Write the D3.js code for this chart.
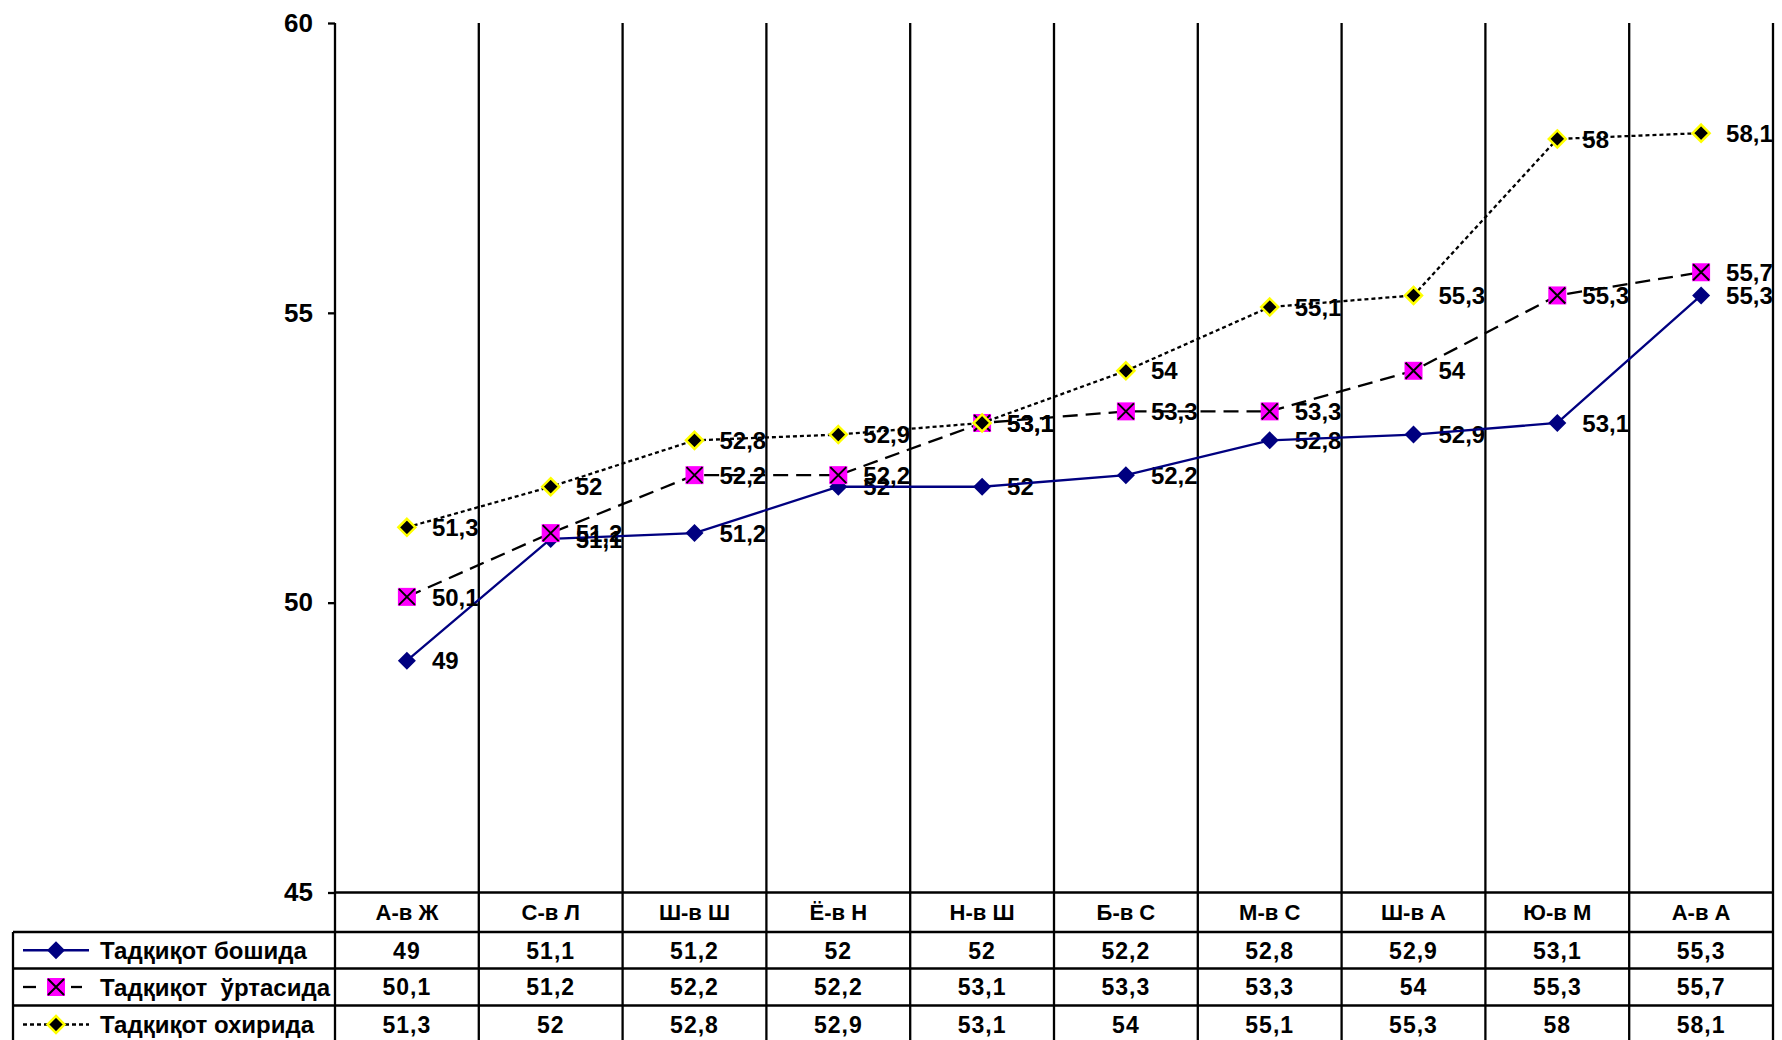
<!doctype html>
<html>
  <head>
    <meta charset="utf-8">
    <title>Тадқиқот</title>
    <script src="https://d3js.org/d3.v7.min.js"></script>
    <style type="text/css">
      body { margin: 0; background-color: #ffffff; }
      text { font-family: Arial, "Liberation Sans", sans-serif; font-weight: bold; fill: #000; }
    </style>
  </head>
  <body>
    <script>
      // data
      var categories = ["А-в Ж", "С-в Л", "Ш-в Ш", "Ё-в Н", "Н-в Ш", "Б-в С", "М-в С", "Ш-в А", "Ю-в М", "А-в А"];
      var seriesNames = ["Тадқиқот бошида", "Тадқиқот  ўртасида", "Тадқиқот охирида"];
      var startValues = [49, 51.1, 51.2, 52, 52, 52.2, 52.8, 52.9, 53.1, 55.3];
      var middleValues = [50.1, 51.2, 52.2, 52.2, 53.1, 53.3, 53.3, 54, 55.3, 55.7];
      var endValues = [51.3, 52, 52.8, 52.9, 53.1, 54, 55.1, 55.3, 58, 58.1];
      var yTicks = [45, 50, 55, 60];

      var w = 1782, h = 1040;
      var plotLeft = 335, plotRight = 1773, plotTop = 23, plotBottom = 892.5;
      var rowLines = [932, 968.5, 1005.5, 1042];

      var svg = d3.select("body").append("svg")
        .attr("width", w).attr("height", h);

      var x = d3.scaleBand().domain(categories).range([plotLeft, plotRight]);
      var y = d3.scaleLinear().domain([45, 60]).range([plotBottom, plotTop]);
      var bw = x.bandwidth();
      var cx = function(c) { return x(c) + bw / 2; };
      var fmt = function(v) { return String(v).replace(".", ","); };

      var series = [
        { name: seriesNames[0], values: startValues, stroke: "#000080", dash: null, marker: "diamond", fill: "#000080", mstroke: "#000080" },
        { name: seriesNames[1], values: middleValues, stroke: "#000000", dash: "15,8", marker: "square", fill: "#ff00ff", mstroke: "#ff00ff" },
        { name: seriesNames[2], values: endValues, stroke: "#000000", dash: "4,3", marker: "diamond2", fill: "#000000", mstroke: "#ffff00" }
      ];

      // grid: vertical band lines through plot and table
      var edges = categories.map(function(c) { return x(c); }).concat([plotRight]);
      svg.append("g").selectAll("line").data(edges.slice(1)).enter().append("line")
        .attr("x1", function(d) { return d; }).attr("x2", function(d) { return d; })
        .attr("y1", plotTop).attr("y2", h)
        .attr("stroke", "#000").attr("stroke-width", 2.3);

      // y axis
      var yAxis = svg.append("g")
        .attr("transform", "translate(" + plotLeft + ",0)")
        .call(d3.axisLeft(y).tickValues(yTicks).tickSize(7).tickSizeOuter(0).tickPadding(15));
      yAxis.select(".domain").attr("stroke-width", 2.3).attr("d", "M0," + plotTop + "V" + h);
      yAxis.selectAll(".tick line").attr("stroke-width", 2.3);
      yAxis.selectAll(".tick text")
        .style("font-size", "26px").style("font-family", "Arial, 'Liberation Sans', sans-serif")
        .style("font-weight", "bold").attr("fill", "#000");

      // horizontal table lines
      svg.append("line").attr("x1", plotLeft).attr("x2", plotRight).attr("y1", plotBottom).attr("y2", plotBottom)
        .attr("stroke", "#000").attr("stroke-width", 2.3);
      svg.append("g").selectAll("line").data(rowLines).enter().append("line")
        .attr("x1", 13).attr("x2", plotRight)
        .attr("y1", function(d) { return d; }).attr("y2", function(d) { return d; })
        .attr("stroke", "#000").attr("stroke-width", 2.3);
      svg.append("line").attr("x1", 13).attr("x2", 13).attr("y1", rowLines[0]).attr("y2", h)
        .attr("stroke", "#000").attr("stroke-width", 2.3);

      // category header
      svg.append("g").selectAll("text").data(categories).enter().append("text")
        .attr("x", cx).attr("y", (plotBottom + rowLines[0]) / 2).attr("dy", "0.36em")
        .attr("text-anchor", "middle").style("font-size", "22px")
        .text(function(d) { return d; });

      function drawMarker(g, type, px, py, s) {
        if (type == "square") {
          g.append("rect").attr("x", px - 9).attr("y", py - 9).attr("width", 18).attr("height", 18)
            .attr("fill", s.fill);
          g.append("path").attr("d", "M" + (px - 8) + "," + (py - 8) + "L" + (px + 8) + "," + (py + 8) +
              "M" + (px + 8) + "," + (py - 8) + "L" + (px - 8) + "," + (py + 8))
            .attr("stroke", "#000").attr("stroke-width", 2).attr("fill", "none");
        } else if (type == "diamond") {
          g.append("path").attr("d", "M" + px + "," + (py - 9) + "L" + (px + 9) + "," + py +
              "L" + px + "," + (py + 9) + "L" + (px - 9) + "," + py + "Z")
            .attr("fill", s.fill);
        } else {
          g.append("path").attr("d", "M" + px + "," + (py - 8.5) + "L" + (px + 8.5) + "," + py +
              "L" + px + "," + (py + 8.5) + "L" + (px - 8.5) + "," + py + "Z")
            .attr("fill", s.fill).attr("stroke", s.mstroke).attr("stroke-width", 2.5);
        }
      }

      var line = d3.line()
        .x(function(d, i) { return cx(categories[i]); })
        .y(function(d) { return y(d); });

      series.forEach(function(s, si) {
        var g = svg.append("g");
        // labels
        g.selectAll("text").data(s.values).enter().append("text")
          .attr("x", function(d, i) { return cx(categories[i]) + 25; })
          .attr("y", function(d) { return y(d); }).attr("dy", "0.36em")
          .style("font-size", "24px")
          .text(fmt);
        g.append("path").datum(s.values).attr("d", line)
          .attr("fill", "none").attr("stroke", s.stroke).attr("stroke-width", 2.3)
          .attr("stroke-dasharray", s.dash);
        s.values.forEach(function(v, i) { drawMarker(g, s.marker, cx(categories[i]), y(v), s); });

        // table row
        var ry = (rowLines[si] + rowLines[si + 1]) / 2;
        if (si == 2) ry = rowLines[2] + 19;
        var row = svg.append("g");
        row.selectAll("text").data(s.values).enter().append("text")
          .attr("x", function(d, i) { return cx(categories[i]); })
          .attr("y", ry).attr("dy", "0.36em").attr("text-anchor", "middle")
          .style("font-size", "23px").style("letter-spacing", "1px")
          .text(fmt);
        // legend key
        if (si == 1) {
          row.append("line").attr("x1", 23).attr("x2", 36).attr("y1", ry).attr("y2", ry)
            .attr("stroke", "#000").attr("stroke-width", 2.3);
          row.append("line").attr("x1", 71).attr("x2", 82).attr("y1", ry).attr("y2", ry)
            .attr("stroke", "#000").attr("stroke-width", 2.3);
        } else {
          row.append("line").attr("x1", 23).attr("x2", 89).attr("y1", ry).attr("y2", ry)
            .attr("stroke", s.stroke).attr("stroke-width", 2.3).attr("stroke-dasharray", s.dash);
        }
        drawMarker(row, s.marker, 56, ry, s);
        row.append("text").attr("x", 100).attr("y", ry).attr("dy", "0.36em")
          .style("font-size", "24px").style("white-space", "pre").attr("xml:space", "preserve")
          .text(s.name);
      });
    </script>
  </body>
</html>
